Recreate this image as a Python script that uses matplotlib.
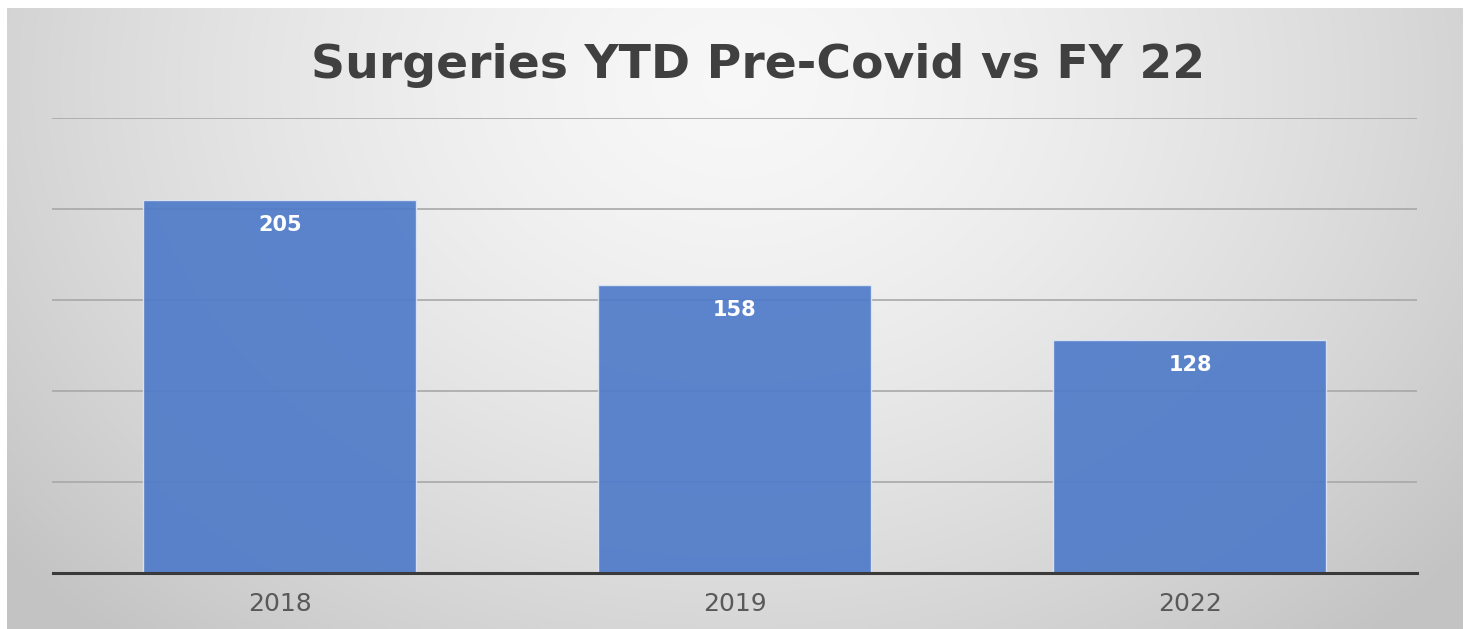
import numpy as np
import matplotlib
matplotlib.use("Agg")
import matplotlib.pyplot as plt

categories = ["2018", "2019", "2022"]
values = [205, 158, 128]
title = "Surgeries YTD Pre-Covid vs FY 22"

W, H = 1473, 629
fig = plt.figure(figsize=(W / 100, H / 100), dpi=100)
fig.patch.set_facecolor("white")

# background panel with radial gradient
bx0, by0, bx1, by1 = 7, 8, 1463, 629
bg = fig.add_axes([bx0 / W, 1 - by1 / H, (bx1 - bx0) / W, (by1 - by0) / H])
nx, ny = 400, 200
xs = np.linspace(0, 1, nx)
ys = np.linspace(0, 1, ny)
X, Y = np.meshgrid(xs, ys)
d = np.sqrt(((X - 0.5) / 0.62) ** 2 + ((Y - 0.12) / 1.15) ** 2)
val = 0.97 - 0.19 * np.clip(d, 0, 1.05) ** 1.5
bg.imshow(np.dstack([val, val, val]), aspect="auto", extent=[0, 1, 1, 0],
          interpolation="bilinear")
bg.set_axis_off()

ax = fig.add_axes([52.5 / W, 56 / H, 1365 / W, 455 / H])
ax.set_facecolor("none")
ax.set_xlim(-0.5, 2.5)
ax.set_ylim(0, 250)
ax.set_yticks([0, 50, 100, 150, 200, 250])
ax.yaxis.grid(True, color="#a8a8a8", linewidth=1.2)
ax.set_axisbelow(True)
for s in ["top", "right", "left"]:
    ax.spines[s].set_visible(False)
ax.spines["bottom"].set_color("#3a3a3a")
ax.spines["bottom"].set_linewidth(2.2)
ax.tick_params(axis="y", left=False, labelleft=False)
ax.tick_params(axis="x", bottom=False, pad=10)

x = np.arange(len(categories))
bars = ax.bar(x, values, width=0.6, color="#4f7bc9", alpha=0.92,
              edgecolor="#dfe6f5", linewidth=1.0, zorder=2)
ax.set_xticks(x)
ax.set_xticklabels(categories, fontsize=18, color="#595959", family="DejaVu Sans")

for xi, v in zip(x, values):
    ax.annotate(str(v), (xi, v), xytext=(0, -18), textcoords="offset points",
                ha="center", va="center", color="white", fontsize=15,
                fontweight="bold", family="DejaVu Sans", zorder=3)

fig.text(758 / W, 1 - 65 / H, title, ha="center", va="center", fontsize=34,
         fontweight="bold", color="#404040", family="DejaVu Sans")

fig.savefig("out.png", dpi=100)
